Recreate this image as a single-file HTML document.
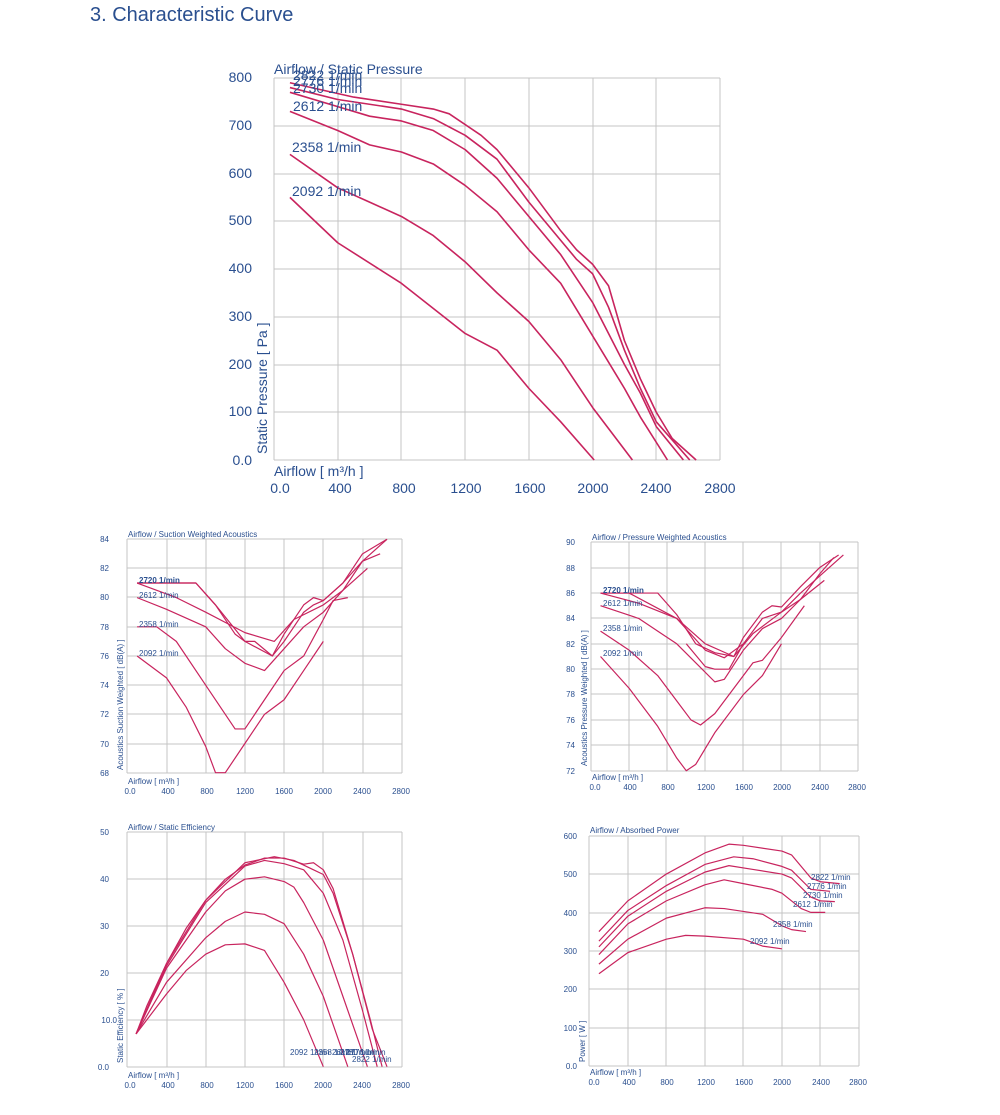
<!DOCTYPE html>
<html><head><meta charset="utf-8"><style>
body{margin:0;background:#fff;}
svg{display:block;font-family:"Liberation Sans",sans-serif;}
.g line{stroke:#c4c4c4;stroke-width:1}
.c polyline{fill:none;stroke:#c8245e;stroke-width:1.6;vector-effect:non-scaling-stroke;stroke-linejoin:round}
.cs polyline{fill:none;stroke:#c8245e;stroke-width:1.2;vector-effect:non-scaling-stroke;stroke-linejoin:round}
text{fill:#2a4f8f}
.s{font-size:8px}
.m{font-size:14px}
</style></head><body>
<svg width="1000" height="1115" viewBox="0 0 1000 1115">
<text x="90" y="21" style="font-size:20px" fill="#1c3b78">3. Characteristic Curve</text>

<!-- MAIN CHART -->
<g class="g">
<line x1="274" y1="78" x2="720" y2="78"/><line x1="274" y1="126" x2="720" y2="126"/><line x1="274" y1="174" x2="720" y2="174"/><line x1="274" y1="221" x2="720" y2="221"/><line x1="274" y1="269" x2="720" y2="269"/><line x1="274" y1="317" x2="720" y2="317"/><line x1="274" y1="365" x2="720" y2="365"/><line x1="274" y1="412" x2="720" y2="412"/><line x1="274" y1="460" x2="720" y2="460"/>
<line x1="274" y1="78" x2="274" y2="460"/><line x1="338" y1="78" x2="338" y2="460"/><line x1="401" y1="78" x2="401" y2="460"/><line x1="465" y1="78" x2="465" y2="460"/><line x1="529" y1="78" x2="529" y2="460"/><line x1="593" y1="78" x2="593" y2="460"/><line x1="656" y1="78" x2="656" y2="460"/><line x1="720" y1="78" x2="720" y2="460"/>
</g>
<g class="c" transform="translate(274,460) scale(0.15929,-0.4775)">
<polyline points="100,790 500,760 800,745 1000,735 1100,725 1300,680 1400,650 1600,570 1800,480 1900,440 2000,410 2100,365 2200,250 2300,170 2400,100 2500,45 2650,0"/>
<polyline points="100,780 400,755 800,735 1000,715 1200,680 1400,630 1600,540 1800,460 1900,420 2000,390 2100,320 2200,230 2300,150 2400,80 2610,0"/>
<polyline points="100,770 400,740 600,720 800,710 1000,690 1200,650 1400,590 1600,510 1800,430 1900,380 2000,330 2200,200 2300,140 2400,70 2570,0"/>
<polyline points="100,730 400,690 600,660 800,645 1000,620 1200,575 1400,520 1600,440 1800,370 2000,260 2200,150 2300,90 2470,0"/>
<polyline points="100,640 400,570 600,540 800,510 1000,470 1200,415 1400,350 1600,290 1800,210 2000,110 2250,0"/>
<polyline points="100,550 400,455 800,370 1200,265 1400,230 1600,150 1800,80 2010,0"/>
</g>
<g class="m" text-anchor="end">
<text x="252" y="82">800</text><text x="252" y="130">700</text><text x="252" y="178">600</text><text x="252" y="225">500</text><text x="252" y="273">400</text><text x="252" y="321">300</text><text x="252" y="369">200</text><text x="252" y="416">100</text><text x="252" y="465">0.0</text>
</g>
<g class="m" text-anchor="middle">
<text x="280" y="493">0.0</text><text x="340" y="493">400</text><text x="404" y="493">800</text><text x="466" y="493">1200</text><text x="530" y="493">1600</text><text x="593" y="493">2000</text><text x="656" y="493">2400</text><text x="720" y="493">2800</text>
</g>
<text class="m" x="274" y="476">Airflow [ m³/h ]</text>
<text class="m" x="274" y="74">Airflow / Static Pressure</text>
<text class="m" transform="translate(267,454) rotate(-90)">Static Pressure [ Pa ]</text>
<g class="m">
<text x="293" y="80">2822 1/min</text><text x="293" y="86">2776 1/min</text><text x="293" y="93">2730 1/min</text><text x="293" y="111">2612 1/min</text><text x="292" y="152">2358 1/min</text><text x="292" y="196">2092 1/min</text>
</g>

<!-- SUCTION ACOUSTICS -->
<g class="g">
<line x1="127" y1="539" x2="402" y2="539"/><line x1="127" y1="568" x2="402" y2="568"/><line x1="127" y1="597" x2="402" y2="597"/><line x1="127" y1="627" x2="402" y2="627"/><line x1="127" y1="656" x2="402" y2="656"/><line x1="127" y1="685" x2="402" y2="685"/><line x1="127" y1="714" x2="402" y2="714"/><line x1="127" y1="744" x2="402" y2="744"/><line x1="127" y1="773" x2="402" y2="773"/>
<line x1="127" y1="539" x2="127" y2="773"/><line x1="167" y1="539" x2="167" y2="773"/><line x1="206" y1="539" x2="206" y2="773"/><line x1="245" y1="539" x2="245" y2="773"/><line x1="284" y1="539" x2="284" y2="773"/><line x1="323" y1="539" x2="323" y2="773"/><line x1="363" y1="539" x2="363" y2="773"/><line x1="402" y1="539" x2="402" y2="773"/>
</g>
<g class="cs" transform="translate(127.3,772.7) scale(0.098,-14.59) translate(0,-68)">
<polyline points="100,81 700,81 900,79.5 1100,77.5 1200,77 1300,77 1480,76 1600,77 1800,79 1900,79.5 2000,79.8 2200,81 2400,83 2650,84"/>
<polyline points="100,81 700,81 900,79.5 1200,77 1480,76 1600,77.5 1800,79.5 1900,80 2000,79.8 2200,81 2400,82.5 2580,83"/>
<polyline points="100,81 500,80 800,79 1200,77.6 1500,77 1700,78.5 2000,79.5 2200,80.5 2450,82"/>
<polyline points="100,80 400,79.2 800,78 1000,76.5 1200,75.5 1400,75 1600,76.5 1800,78 2000,79 2200,80.5 2400,82.5 2650,84"/>
<polyline points="100,78 300,78 500,77 800,74 1100,71 1200,71 1400,73 1600,75 1800,76 2000,78.5 2100,79.8 2250,80"/>
<polyline points="100,76 400,74.5 600,72.5 800,69.8 900,68 1000,68 1200,70 1400,72 1600,73 1800,75 2000,77"/>
</g>
<g class="s" text-anchor="end">
<text x="109" y="542">84</text><text x="109" y="571">82</text><text x="109" y="600">80</text><text x="109" y="630">78</text><text x="109" y="659">76</text><text x="109" y="688">74</text><text x="109" y="717">72</text><text x="109" y="747">70</text><text x="109" y="776">68</text>
</g>
<g class="s" text-anchor="middle">
<text x="130" y="794">0.0</text><text x="168" y="794">400</text><text x="207" y="794">800</text><text x="245" y="794">1200</text><text x="284" y="794">1600</text><text x="323" y="794">2000</text><text x="362" y="794">2400</text><text x="401" y="794">2800</text>
</g>
<text class="s" x="128" y="784">Airflow [ m³/h ]</text>
<text class="s" x="128" y="537">Airflow / Suction Weighted Acoustics</text>
<text class="s" transform="translate(123,770) rotate(-90)">Acoustics Suction Weighted [ dB(A) ]</text>
<g class="s"><text x="139" y="583" font-weight="bold">2720 1/min</text><text x="139" y="598">2612 1/min</text><text x="139" y="627">2358 1/min</text><text x="139" y="656">2092 1/min</text></g>

<!-- PRESSURE ACOUSTICS -->
<g class="g">
<line x1="591" y1="542" x2="858" y2="542"/><line x1="591" y1="568" x2="858" y2="568"/><line x1="591" y1="593" x2="858" y2="593"/><line x1="591" y1="618" x2="858" y2="618"/><line x1="591" y1="644" x2="858" y2="644"/><line x1="591" y1="669" x2="858" y2="669"/><line x1="591" y1="694" x2="858" y2="694"/><line x1="591" y1="720" x2="858" y2="720"/><line x1="591" y1="745" x2="858" y2="745"/><line x1="591" y1="771" x2="858" y2="771"/>
<line x1="591" y1="542" x2="591" y2="771"/><line x1="629" y1="542" x2="629" y2="771"/><line x1="667" y1="542" x2="667" y2="771"/><line x1="705" y1="542" x2="705" y2="771"/><line x1="743" y1="542" x2="743" y2="771"/><line x1="781" y1="542" x2="781" y2="771"/><line x1="820" y1="542" x2="820" y2="771"/><line x1="858" y1="542" x2="858" y2="771"/>
</g>
<g class="cs" transform="translate(591,770.7) scale(0.09524,-12.69) translate(0,-72)">
<polyline points="100,86 700,86 900,84.3 1100,82 1300,81.3 1500,81 1600,82.5 1800,84.5 1900,85 2000,84.9 2200,86.5 2400,88 2600,89"/>
<polyline points="100,86 400,86 900,84 1200,81.5 1400,80.9 1600,82 1800,84 2000,84.5 2200,86 2650,89"/>
<polyline points="100,86 500,85.2 900,84 1200,82 1500,81 1700,82.8 2000,84.5 2200,85.5 2450,87"/>
<polyline points="100,85 500,84 900,82 1100,80.5 1300,79 1400,79.2 1600,81.5 1800,83.2 2000,84 2200,85.5 2400,87.5 2550,88.8"/>
<polyline points="1000,82 1200,80.2 1300,80 1450,80 1600,82"/>
<polyline points="100,83 400,81.5 700,79.5 900,77.5 1050,76 1150,75.6 1300,76.5 1500,78.5 1700,80.5 1800,80.7 2000,82.5 2240,85"/>
<polyline points="100,81 400,78.5 700,75.5 900,73 1000,72 1100,72.5 1300,75 1600,78 1800,79.5 2000,82"/>
</g>
<g class="s" text-anchor="end">
<text x="575" y="545">90</text><text x="575" y="571">88</text><text x="575" y="596">86</text><text x="575" y="621">84</text><text x="575" y="647">82</text><text x="575" y="672">80</text><text x="575" y="697">78</text><text x="575" y="723">76</text><text x="575" y="748">74</text><text x="575" y="774">72</text>
</g>
<g class="s" text-anchor="middle">
<text x="595" y="790">0.0</text><text x="630" y="790">400</text><text x="668" y="790">800</text><text x="706" y="790">1200</text><text x="744" y="790">1600</text><text x="782" y="790">2000</text><text x="820" y="790">2400</text><text x="857" y="790">2800</text>
</g>
<text class="s" x="592" y="780">Airflow [ m³/h ]</text>
<text class="s" x="592" y="540">Airflow / Pressure Weighted Acoustics</text>
<text class="s" transform="translate(587,766) rotate(-90)">Acoustics Pressure Weighted [ dB(A) ]</text>
<g class="s"><text x="603" y="593" font-weight="bold">2720 1/min</text><text x="603" y="606">2612 1/min</text><text x="603" y="631">2358 1/min</text><text x="603" y="656">2092 1/min</text></g>

<!-- EFFICIENCY -->
<g class="g">
<line x1="127" y1="832" x2="402" y2="832"/><line x1="127" y1="879" x2="402" y2="879"/><line x1="127" y1="926" x2="402" y2="926"/><line x1="127" y1="973" x2="402" y2="973"/><line x1="127" y1="1020" x2="402" y2="1020"/><line x1="127" y1="1067" x2="402" y2="1067"/>
<line x1="127" y1="832" x2="127" y2="1067"/><line x1="167" y1="832" x2="167" y2="1067"/><line x1="206" y1="832" x2="206" y2="1067"/><line x1="245" y1="832" x2="245" y2="1067"/><line x1="284" y1="832" x2="284" y2="1067"/><line x1="323" y1="832" x2="323" y2="1067"/><line x1="363" y1="832" x2="363" y2="1067"/><line x1="402" y1="832" x2="402" y2="1067"/>
</g>
<g class="cs" transform="translate(127.3,1066.7) scale(0.098,-4.688)">
<polyline points="90,7 200,13 400,22 600,29.5 800,35.5 1000,40 1200,43 1400,44.5 1600,44.5 1800,43.2 1900,43.5 2000,42 2100,38 2300,24 2500,8 2650,0"/>
<polyline points="90,7 400,22 800,35.5 1200,43.5 1500,44.8 1700,44 1900,42 2000,41 2100,37 2300,24 2480,10 2600,0"/>
<polyline points="90,7 400,21.5 800,35 1200,42.8 1400,44 1600,43.3 1800,42 2000,37 2200,27 2400,12 2550,0"/>
<polyline points="90,7 400,21 800,33 1000,37.5 1200,40 1400,40.5 1600,39.5 1700,38.3 1800,35 2000,27 2200,15 2450,0"/>
<polyline points="90,7 400,18 800,27.5 1000,31 1200,33 1400,32.5 1600,30.5 1800,24 2000,15 2250,0"/>
<polyline points="90,7 400,15.5 600,20.5 800,24 1000,26 1200,26.2 1400,24.8 1600,18 1800,10 2000,0"/>
</g>
<g class="s" text-anchor="end">
<text x="109" y="835">50</text><text x="109" y="882">40</text><text x="109" y="929">30</text><text x="109" y="976">20</text><text x="117" y="1023">10.0</text><text x="109" y="1070">0.0</text>
</g>
<g class="s" text-anchor="middle">
<text x="130" y="1088">0.0</text><text x="168" y="1088">400</text><text x="207" y="1088">800</text><text x="245" y="1088">1200</text><text x="284" y="1088">1600</text><text x="323" y="1088">2000</text><text x="362" y="1088">2400</text><text x="401" y="1088">2800</text>
</g>
<text class="s" x="128" y="1078">Airflow [ m³/h ]</text>
<text class="s" x="128" y="830">Airflow / Static Efficiency</text>
<text class="s" transform="translate(123,1063) rotate(-90)">Static Efficiency [ % ]</text>
<g class="s"><text x="290" y="1055">2092 1/min</text><text x="314" y="1055">2358 1/min</text><text x="332" y="1055">2612 1/min</text><text x="340" y="1055">2730 1/min</text><text x="346" y="1055">2776 1/min</text><text x="352" y="1062">2822 1/min</text></g>

<!-- POWER -->
<g class="g">
<line x1="589" y1="836" x2="859" y2="836"/><line x1="589" y1="874" x2="859" y2="874"/><line x1="589" y1="913" x2="859" y2="913"/><line x1="589" y1="951" x2="859" y2="951"/><line x1="589" y1="989" x2="859" y2="989"/><line x1="589" y1="1028" x2="859" y2="1028"/><line x1="589" y1="1066" x2="859" y2="1066"/>
<line x1="589" y1="836" x2="589" y2="1066"/><line x1="628" y1="836" x2="628" y2="1066"/><line x1="666" y1="836" x2="666" y2="1066"/><line x1="705" y1="836" x2="705" y2="1066"/><line x1="743" y1="836" x2="743" y2="1066"/><line x1="782" y1="836" x2="782" y2="1066"/><line x1="820" y1="836" x2="820" y2="1066"/><line x1="859" y1="836" x2="859" y2="1066"/>
</g>
<g class="cs" transform="translate(589.3,1065.7) scale(0.0963,-0.3833)">
<polyline points="100,350 400,430 800,500 1200,555 1450,578 1600,575 2000,560 2100,550 2300,490 2400,480 2600,475"/>
<polyline points="100,325 400,405 800,470 1200,525 1500,545 1700,540 2000,520 2100,510 2300,460 2500,455"/>
<polyline points="100,310 400,390 800,455 1200,505 1450,522 1700,512 2000,500 2100,490 2300,440 2400,430 2550,428"/>
<polyline points="100,290 400,370 800,430 1200,472 1400,485 1600,475 1900,460 2000,450 2200,410 2300,400 2450,400"/>
<polyline points="100,265 400,330 800,385 1200,412 1400,410 1800,395 2000,365 2100,355 2250,350"/>
<polyline points="100,240 400,295 800,330 1000,340 1200,338 1600,330 1800,312 2000,305"/>
</g>
<g class="s" text-anchor="end">
<text x="577" y="839">600</text><text x="577" y="877">500</text><text x="577" y="916">400</text><text x="577" y="954">300</text><text x="577" y="992">200</text><text x="577" y="1031">100</text><text x="577" y="1069">0.0</text>
</g>
<g class="s" text-anchor="middle">
<text x="594" y="1085">0.0</text><text x="629" y="1085">400</text><text x="667" y="1085">800</text><text x="706" y="1085">1200</text><text x="744" y="1085">1600</text><text x="782" y="1085">2000</text><text x="821" y="1085">2400</text><text x="858" y="1085">2800</text>
</g>
<text class="s" x="590" y="1075">Airflow [ m³/h ]</text>
<text class="s" x="590" y="833">Airflow / Absorbed Power</text>
<text class="s" transform="translate(585,1062) rotate(-90)">Power [ W ]</text>
<g class="s"><text x="811" y="880">2822 1/min</text><text x="807" y="889">2776 1/min</text><text x="803" y="898">2730 1/min</text><text x="793" y="907">2612 1/min</text><text x="773" y="927">2358 1/min</text><text x="750" y="944">2092 1/min</text></g>
</svg>
</body></html>
